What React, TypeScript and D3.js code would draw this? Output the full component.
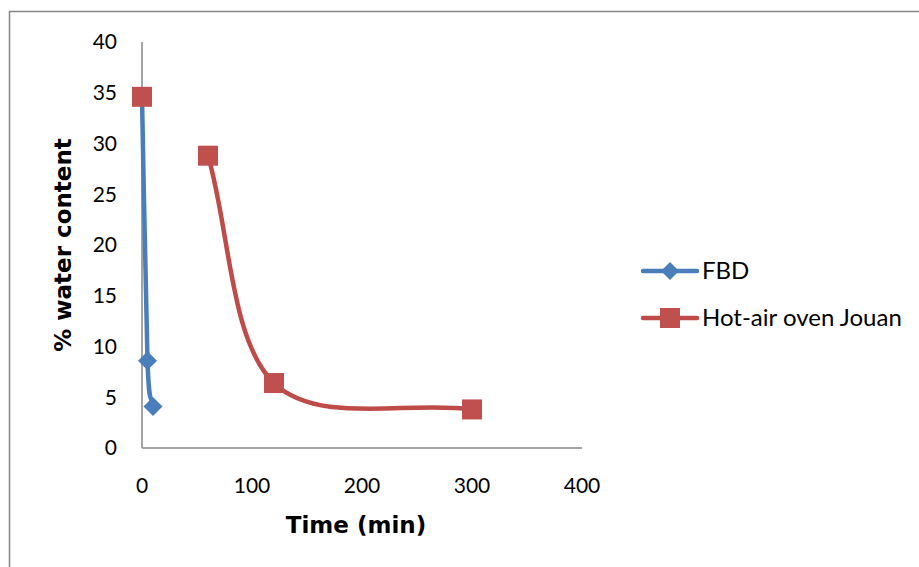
import React from "react";
import * as d3 from "d3";

const fbdTime = [0, 5, 10];
const fbdWater = [34.6, 8.6, 4.1];
const ovenTime = [0, 60, 120, 300];
const ovenWater = [34.6, 28.8, 6.4, 3.8];
const ovenLineStart = 1; // first oven point is not joined to the curve
const xTicks = [0, 100, 200, 300, 400];
const yTicks = [0, 5, 10, 15, 20, 25, 30, 35, 40];
const seriesNames = ["FBD", "Hot-air oven Jouan"];
const xTitle = "Time (min)";
const yTitle = "% water content";

const W = 919;
const H = 567;
const FONT = "Lato, 'Open Sans', sans-serif";
const TITLE_FONT = "'DejaVu Sans', sans-serif";
const BLUE = "#4A7EBB";
const RED = "#BE4B48";
const RED_FILL = "#C0504D";
const AXIS = "#868686";

type Pt = [number, number];

// Spreadsheet-style smoothed line: cubic Béziers with Catmull-Rom tangents,
// end points extended by reflection.
function smoothPath(pts: Pt[]): string {
  const n = pts.length;
  const p = d3.path();
  if (n === 0) return "";
  p.moveTo(pts[0][0], pts[0][1]);
  if (n === 1) return p.toString();
  const get = (i: number): Pt => {
    if (i < 0) return [2 * pts[0][0] - pts[1][0], 2 * pts[0][1] - pts[1][1]];
    if (i >= n)
      return [2 * pts[n - 1][0] - pts[n - 2][0], 2 * pts[n - 1][1] - pts[n - 2][1]];
    return pts[i];
  };
  for (let i = 0; i < n - 1; i++) {
    const a = get(i - 1), b = get(i), c = get(i + 1), d = get(i + 2);
    const c1x = b[0] + (c[0] - a[0]) / 6;
    const c1y = b[1] + (c[1] - a[1]) / 6;
    const c2x = c[0] - (d[0] - b[0]) / 6;
    const c2y = c[1] - (d[1] - b[1]) / 6;
    p.bezierCurveTo(c1x, c1y, c2x, c2y, c[0], c[1]);
  }
  return p.toString();
}

export default function App() {
  const x = d3.scaleLinear().domain([0, 400]).range([142, 582]);
  const y = d3.scaleLinear().domain([0, 40]).range([448, 42]);

  const fbd = fbdTime.map((t, i) => [t, fbdWater[i]] as Pt);
  const oven = ovenTime.map((t, i) => [t, ovenWater[i]] as Pt);
  const toPx = (d: Pt): Pt => [x(d[0]), y(d[1])];

  const diamond = (cx: number, cy: number, r: number) =>
    `M${cx},${cy - r}L${cx + r},${cy}L${cx},${cy + r}L${cx - r},${cy}Z`;

  const sq = 20;
  const legendX1 = 643;
  const legendX2 = 697;
  const legendY = [271, 318];

  return (
    <svg
      width={W}
      height={H}
      style={{ position: "absolute", left: 0, top: 0 }}
      fontFamily={FONT}
    >
      <rect x={0} y={0} width={W} height={H} fill="#fff" />
      {/* outer frame */}
      <path d={`M9.5,${H + 5}L9.5,11.5L${W + 5},11.5`} fill="none" stroke={AXIS} strokeWidth={1.5} />

      {/* axes */}
      <line x1={x(0)} x2={x(0)} y1={y(0)} y2={y(40)} stroke={AXIS} strokeWidth={1.5} />
      <line x1={x(0)} x2={x(400)} y1={y(0)} y2={y(0)} stroke={AXIS} strokeWidth={1.5} />

      {yTicks.map((t) => (
        <text key={t} x={117} y={y(t)} dy="0.35em" textAnchor="end" fontSize={21} fill="#000">
          {t}
        </text>
      ))}
      {xTicks.map((t) => (
        <text key={t} x={x(t)} y={486} dy="0.35em" textAnchor="middle" fontSize={21} fill="#000">
          {t}
        </text>
      ))}

      <text x={356} y={525} dy="0.35em" textAnchor="middle" fontSize={23} fontWeight="bold" fontFamily={TITLE_FONT}>
        {xTitle}
      </text>
      <text
        transform={`translate(63,245) rotate(-90)`}
        dy="0.35em"
        textAnchor="middle"
        fontSize={23}
        fontWeight="bold"
        fontFamily={TITLE_FONT}
      >
        {yTitle}
      </text>

      {/* FBD */}
      <path d={smoothPath(fbd.map(toPx))} fill="none" stroke={BLUE} strokeWidth={4.5} strokeLinejoin="round" />
      {fbd.map((d, i) => (
        <path key={i} d={diamond(x(d[0]), y(d[1]), 9.5)} fill={BLUE} />
      ))}

      {/* Oven */}
      <path
        d={smoothPath(oven.slice(ovenLineStart).map(toPx))}
        fill="none"
        stroke={RED}
        strokeWidth={4.5}
        strokeLinejoin="round"
      />
      {oven.map((d, i) => (
        <rect key={i} x={x(d[0]) - sq / 2} y={y(d[1]) - sq / 2} width={sq} height={sq} fill={RED_FILL} />
      ))}

      {/* legend */}
      <line x1={legendX1} x2={legendX2} y1={legendY[0]} y2={legendY[0]} stroke={BLUE} strokeWidth={4.5} strokeLinecap="round" />
      <path d={diamond((legendX1 + legendX2) / 2, legendY[0], 9)} fill={BLUE} />
      <text x={702} y={legendY[0]} dy="0.35em" fontSize={24}>
        {seriesNames[0]}
      </text>
      <line x1={legendX1} x2={legendX2} y1={legendY[1]} y2={legendY[1]} stroke={RED} strokeWidth={4.5} strokeLinecap="round" />
      <rect x={(legendX1 + legendX2) / 2 - sq / 2} y={legendY[1] - sq / 2} width={sq} height={sq} fill={RED_FILL} />
      <text x={702} y={legendY[1]} dy="0.35em" fontSize={24}>
        {seriesNames[1]}
      </text>
    </svg>
  );
}
